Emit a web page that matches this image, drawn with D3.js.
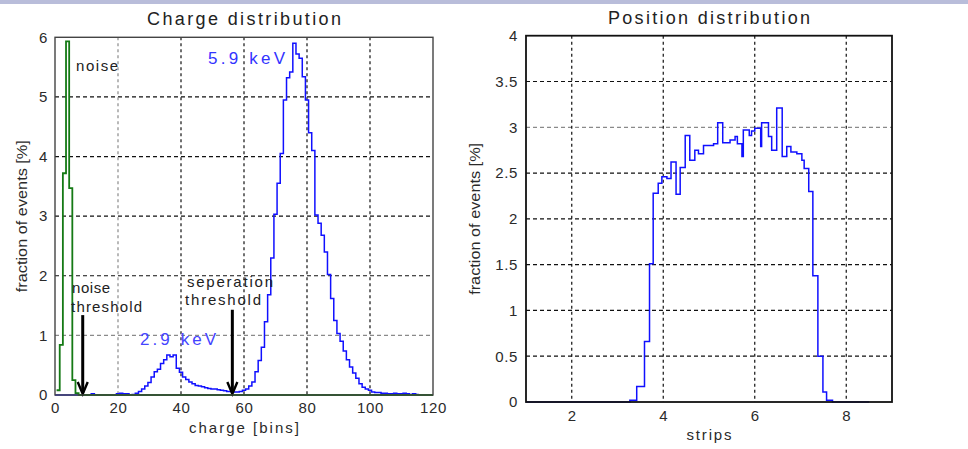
<!DOCTYPE html>
<html><head><meta charset="utf-8">
<script src="https://cdn.jsdelivr.net/npm/d3@7"></script>
<style>
html,body{margin:0;padding:0;background:#fff;}
svg{display:block;font-family:"Liberation Sans",Arial,sans-serif;}
</style></head>
<body>
<svg id="c" width="968" height="449"></svg>
<script>
// ---------- DATA ----------
// Charge distribution: blue signal histogram, one value per integer bin (0..115), fraction of events [%]
const chargeBins = d3.range(0, 116);
const chargeSignal = [
  0,0,0,0,0,0,0,0,0,0, 0,0,0.02,0,0,0,0,0,0,0,
  0.02,0.03,0.02,0.02,0,0.01,0.03,0.06,0.10,0.15,
  0.21,0.30,0.39,0.43,0.53,0.59,0.67,0.64,0.67,0.45,
  0.38,0.30,0.26,0.22,0.19,0.16,0.15,0.14,0.12,0.11,
  0.10,0.10,0.09,0.08,0.07,0.06,0.06,0.05,0.05,0.06,
  0.08,0.10,0.15,0.22,0.39,0.58,0.80,1.23,1.68,2.30,
  3.03,3.55,4.05,4.95,5.32,5.42,5.90,5.72,5.65,5.34,
  4.95,4.40,4.10,3.02,2.88,2.68,2.40,2.02,1.62,1.25,
  1.03,0.90,0.74,0.59,0.47,0.37,0.28,0.19,0.13,0.10,
  0.08,0.05,0.04,0.04,0.03,0.03,0.02,0.02,0.03,0.02,
  0.02,0.03,0.02,0.01,0.02,0.01
];
// Noise histogram (green), bins 1..8, then zero up to the end of the axis
const noiseBins = [1,2,3,4,5,6,7,8];
const noiseValues = [0.08,0.84,3.72,5.93,3.47,0.25,0.03,0];
// thresholds (arrows)
const thresholdNames = ["noise threshold","seperation threshold"];
const thresholdCharge = [8.8, 56.3];
const thresholdArrowTop = [1.34, 1.43];
// axes ticks
const chargeXTicks = [0,20,40,60,80,100,120];
const chargeYTicks = [0,1,2,3,4,5,6];

// Position distribution: bin edges (strips) and fraction of events [%] per interval
const stripEdges = [1.0,3.27,3.42,3.59,3.70,3.78,3.89,3.97,4.08,4.17,4.28,4.37,4.48,4.58,4.69,4.77,4.88,5.10,5.19,5.30,5.46,5.57,5.62,5.72,5.75,5.88,5.93,6.00,6.13,6.15,6.30,6.37,6.48,6.60,6.70,6.79,6.92,7.03,7.08,7.18,7.27,7.38,7.49,7.57,7.70,8.5];
const stripValues = [0,0.02,0.17,0.66,1.51,2.28,2.39,2.46,2.44,2.62,2.27,2.56,2.91,2.64,2.75,2.71,2.80,2.82,3.05,2.83,2.86,2.90,2.82,2.68,2.97,2.91,2.96,2.99,2.79,3.05,2.90,2.75,3.21,2.68,2.79,2.73,2.71,2.64,2.55,2.30,1.38,0.50,0.11,0.02,0];
const posXTicks = [2,4,6,8];
const posYTicks = [0,0.5,1,1.5,2,2.5,3,3.5,4];

// ---------- DRAW ----------
const svg = d3.select("#c");
svg.append("rect").attr("x",0).attr("y",0).attr("width",968).attr("height",4).attr("fill","#b9bdda");

const FONT = "'Liberation Sans', Arial, sans-serif";

function panel(cfg){
  const g = svg.append("g");
  const x = d3.scaleLinear().domain(cfg.xDomain).range([cfg.left, cfg.right]);
  const y = d3.scaleLinear().domain(cfg.yDomain).range([cfg.bottom, cfg.top]);
  // grid
  cfg.yTicks.filter(t => t > cfg.yDomain[0] && t < cfg.yDomain[1]).forEach(t => {
    g.append("line").attr("x1",cfg.left).attr("x2",cfg.right).attr("y1",y(t)).attr("y2",y(t))
      .attr("stroke", cfg.lightY.includes(t) ? "#8a8a8a" : "#111").attr("stroke-width",1.2)
      .attr("stroke-dasharray","4,3");
  });
  cfg.xTicks.filter(t => t > cfg.xDomain[0] && t < cfg.xDomain[1]).forEach(t => {
    g.append("line").attr("y1",cfg.top).attr("y2",cfg.bottom).attr("x1",x(t)).attr("x2",x(t))
      .attr("stroke", cfg.lightX.includes(t) ? "#8a8a8a" : "#111").attr("stroke-width",1.2)
      .attr("stroke-dasharray","3,3");
  });
  // tick labels
  const yAxis = d3.axisLeft(y).tickValues(cfg.yTicks).tickSize(0).tickPadding(cfg.yPad).tickFormat(d3.format("~g"));
  const ya = g.append("g").attr("transform",`translate(${cfg.left},0)`).call(yAxis);
  const xAxis = d3.axisBottom(x).tickValues(cfg.xTicks).tickSize(0).tickPadding(cfg.xPad).tickFormat(d3.format("~g"));
  const xa = g.append("g").attr("transform",`translate(0,${cfg.bottom})`).call(xAxis);
  [ya,xa].forEach(a => {
    a.select(".domain").remove();
    a.selectAll("text").attr("font-family",FONT).attr("font-size",15).attr("fill","#2a2a2a").attr("letter-spacing",0.6);
  });
  // title
  g.append("text").attr("x",(cfg.left+cfg.right)/2).attr("y",cfg.titleY).attr("text-anchor","middle")
    .attr("font-family",FONT).attr("font-size",18).attr("fill","#222")
    .attr("textLength",cfg.titleLen).attr("lengthAdjust","spacing").text(cfg.title);
  g.append("text").attr("x",(cfg.left+cfg.right)/2).attr("y",cfg.xLabelY).attr("text-anchor","middle")
    .attr("font-family",FONT).attr("font-size",15).attr("fill","#2a2a2a")
    .attr("textLength",cfg.xLabelLen).attr("lengthAdjust","spacing").text(cfg.xLabel);
  g.append("text").attr("transform",`translate(${cfg.yLabelX},${(cfg.top+cfg.bottom)/2}) rotate(-90)`)
    .attr("text-anchor","middle").attr("dy","0.35em")
    .attr("font-family",FONT).attr("font-size",15).attr("fill","#2a2a2a")
    .attr("textLength",152).attr("lengthAdjust","spacingAndGlyphs").text(cfg.yLabel);
  return {g,x,y};
}

// ----- Left panel -----
const L = panel({
  xDomain:[0,120], yDomain:[0,6], left:55, right:433, top:37.3, bottom:395,
  xTicks:chargeXTicks, yTicks:chargeYTicks, lightX:[20], lightY:[1],
  yPad:7, xPad:7, title:"Charge  distribution", titleY:25, titleLen:194,
  xLabel:"charge  [bins]", xLabelY:433, xLabelLen:110,
  yLabel:"fraction of events [%]", yLabelX:22
});
const stepLine = (x,y) => d3.line().x(d => x(d[0])).y(d => y(d[1]));
// blue signal histogram (bins centred on integers)
const bluePts = [];
chargeBins.forEach((b,i) => {
  bluePts.push([Math.max(0,b-0.5), chargeSignal[i]]);
  bluePts.push([b+0.5, chargeSignal[i]]);
});
L.g.append("path").attr("d", stepLine(L.x,L.y)(bluePts)).attr("fill","none")
  .attr("stroke","#1010ff").attr("stroke-width",1.5);
// green noise histogram
const greenPts = [];
noiseBins.forEach((b,i) => {
  greenPts.push([b-0.5, noiseValues[i]]);
  greenPts.push([b+0.5, noiseValues[i]]);
});
greenPts.push([L.x.domain()[1], 0]);
L.g.append("path").attr("d", stepLine(L.x,L.y)(greenPts)).attr("fill","none")
  .attr("stroke","#157a15").attr("stroke-width",1.8);

// threshold arrows
thresholdCharge.forEach((c,i) => {
  const xx = L.x(c), y0 = L.y(0), y1 = L.y(thresholdArrowTop[i]);
  L.g.append("line").attr("x1",xx).attr("x2",xx).attr("y1",y1).attr("y2",y0-2)
    .attr("stroke","#000").attr("stroke-width",3);
  L.g.append("path").attr("d",`M${xx-5},${y0-13}L${xx},${y0-1}L${xx+5},${y0-13}`)
    .attr("fill","none").attr("stroke","#000").attr("stroke-width",2.4);
});

// annotations
function note(g, x, y, txt, len, color, size){
  g.append("text").attr("x",x).attr("y",y).attr("font-family",FONT).attr("font-size",size)
    .attr("fill",color).attr("textLength",len).attr("lengthAdjust","spacing").text(txt);
}
note(L.g, L.x(6.7), L.y(5.44), "noise", 42, "#222", 15);
note(L.g, L.x(5.4), L.y(1.71), "noise", 38, "#222", 15);
note(L.g, L.x(5.1), L.y(1.39), "threshold", 71, "#222", 15);
note(L.g, L.x(41.9), L.y(1.81), "seperation", 86, "#222", 15);
note(L.g, L.x(41.3), L.y(1.51), "threshold", 76, "#222", 15);
note(L.g, L.x(48.6), L.y(5.55), "5.9 keV", 77, "#3333ff", 17);
note(L.g, L.x(27.0), L.y(0.84), "2.9 keV", 76, "#4444ff", 17);

// frame
L.g.append("rect").attr("x",55).attr("y",37.3).attr("width",378).attr("height",357.7)
  .attr("fill","none").attr("stroke","#444").attr("stroke-width",1.4);

// ----- Right panel -----
const R = panel({
  xDomain:[1,9], yDomain:[0,4], left:526, right:892, top:35.7, bottom:402,
  xTicks:posXTicks, yTicks:posYTicks, lightX:[], lightY:[3],
  yPad:8, xPad:8, title:"Position  distribution", titleY:24, titleLen:202,
  xLabel:"strips", xLabelY:440, xLabelLen:45,
  yLabel:"fraction of events [%]", yLabelX:475
});
const posPts = [];
stripValues.forEach((v,i) => {
  posPts.push([stripEdges[i], v]);
  posPts.push([stripEdges[i+1], v]);
});
R.g.append("path").attr("d", stepLine(R.x,R.y)(posPts)).attr("fill","none")
  .attr("stroke","#1010ff").attr("stroke-width",1.5);
R.g.append("rect").attr("x",526).attr("y",35.7).attr("width",366).attr("height",366.3)
  .attr("fill","none").attr("stroke","#111").attr("stroke-width",1.8);
</script>
</body></html>
